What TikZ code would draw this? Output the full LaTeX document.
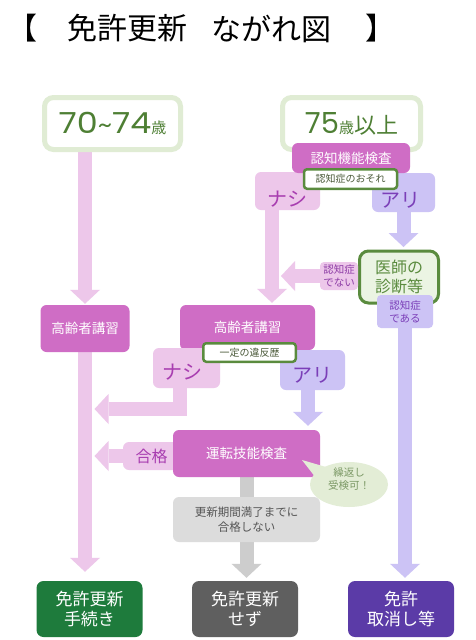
\documentclass[tikz,border=0pt]{standalone}
\usepackage{graphicx}
\usepackage{fontspec}
\setmainfont{Noto Sans CJK JP}
\newfontfamily\digitfont{Poppins}
\usetikzlibrary{arrows.meta,backgrounds,shapes.geometric,calc}
\definecolor{mag}{HTML}{CF6DC5}
\definecolor{lpink}{HTML}{EDC7EA}
\definecolor{lpurple}{HTML}{CCC3F5}
\definecolor{magt}{HTML}{A83DB0}
\definecolor{denait}{HTML}{8E3DA6}
\definecolor{purpt}{HTML}{7B3FB8}
\definecolor{lgreen}{HTML}{E0ECD4}
\definecolor{dgreen}{HTML}{4E7F34}
\definecolor{gline}{HTML}{5A8B3E}
\definecolor{osoret}{HTML}{4B5A3A}
\definecolor{docf}{HTML}{EBF4E3}
\definecolor{bubf}{HTML}{E3EDD6}
\definecolor{bubt}{HTML}{7C9966}
\definecolor{failf}{HTML}{DCDCDC}
\definecolor{failt}{HTML}{555555}
\definecolor{garr}{HTML}{CDCDCD}
\definecolor{renewc}{HTML}{1E7B3C}
\definecolor{norenewc}{HTML}{5F5F5F}
\definecolor{revokec}{HTML}{5B3BA7}
\begin{document}
\begin{tikzpicture}[x=1pt,y=-1pt,
  title/.style={font=\fontsize{30}{30}\selectfont,inner sep=0pt},
  mbox/.style={fill=mag,text=white,rounded corners=6pt,inner sep=0pt,font=\fontsize{13.5}{16}\selectfont},
  pbox/.style={fill=lpink,rounded corners=6pt,inner sep=0pt},
  vbox/.style={fill=lpurple,rounded corners=6pt,inner sep=0pt},
  gbox/.style={draw=gline,line width=2.5pt,fill=white,rounded corners=3pt,inner sep=0pt,text=osoret,font=\fontsize{10}{12}\selectfont},
  agebox/.style={draw=lgreen,line width=5pt,fill=white,rounded corners=9pt,inner sep=0pt,text=dgreen,minimum height=52pt},
  endbox/.style={rounded corners=7pt,inner sep=0pt,text=white,minimum width=106pt,minimum height=56pt,align=center,font=\fontsize{17}{20}\selectfont},
  yn/.style={font=\fontsize{20}{20}\selectfont,inner sep=0pt},
  smalltxt/.style={align=center,inner sep=0pt,font=\fontsize{10.5}{13}\selectfont},
  blockarr/.style={line width=14pt,-{Triangle[width=30pt,length=14pt,line width=0pt]}},
  pinkarr/.style={blockarr,draw=lpink},
  purparr/.style={blockarr,draw=lpurple},
  grayarr/.style={blockarr,draw=garr},
]
\useasboundingbox (0,0) rectangle (476,640);
% title
\node[title] (tb1) at (22,28.5) {【};
\node[title] (tt1) at (127.5,28.5) {免許更新};
\node[title] (tt2) at (271,28.5) {ながれ図};
\node[title] (tb2) at (380,28.5) {】};
% age boxes
\node[agebox,minimum width=136pt] (a7074) at (112.5,123.5)
  {\scalebox{1.15}[1]{\digitfont\fontsize{29}{29}\selectfont 70{\fontsize{24}{24}\selectfont\textasciitilde}74}{\fontsize{15}{15}\selectfont 歳}};
\node[agebox,minimum width=138pt] (a75) at (351.5,123.5)
  {{\digitfont\fontsize{29}{29}\selectfont 75}{\fontsize{15}{15}\selectfont 歳}{\fontsize{22}{22}\selectfont 以上}};
% upper right branch
\node[pbox,minimum width=65pt,minimum height=38pt] (nashi1) at (287.5,191) {};
\node[yn,text=magt] (nashi1t) at (287,199.5) {ナシ};
\node[vbox,minimum width=63pt,minimum height=39pt] (ari1) at (403.5,192.5) {};
\node[yn,text=purpt] (ari1t) at (400,200) {アリ};
\node[mbox,minimum width=118pt,minimum height=30pt] (cog) at (351,158) {認知機能検査};
\node[gbox,minimum width=93pt,minimum height=19.5pt] (osore) at (350.5,179) {認知症のおそれ};
\node[draw=gline,line width=3pt,fill=docf,rounded corners=9pt,inner sep=0pt,minimum width=79pt,minimum height=52pt,
  align=center,text=gline,font=\fontsize{16}{19}\selectfont] (doctor) at (399,277) {医師の\\診断等};
\node[pbox,rounded corners=4pt,minimum width=38pt,minimum height=28pt,smalltxt,text=denait] (denai) at (339,276) {認知症\\でない};
\node[vbox,rounded corners=4pt,minimum width=56pt,minimum height=33pt,smalltxt,text=purpt] (dearu) at (405,311.5) {認知症\\である};
% lectures
\node[mbox,minimum width=89pt,minimum height=47pt] (koureiL) at (85,328.5) {高齢者講習};
\node[mbox,minimum width=135pt,minimum height=45pt] (koureiR) at (247.5,327.5) {高齢者講習};
\node[pbox,minimum width=67pt,minimum height=40pt] (nashi2) at (186.5,368) {};
\node[yn,text=magt] (nashi2t) at (182,372) {ナシ};
\node[vbox,minimum width=65pt,minimum height=40pt] (ari2) at (312.5,370) {};
\node[yn,text=purpt] (ari2t) at (312,375) {アリ};
\node[gbox,minimum width=92.5pt,minimum height=18.5pt] (ihan) at (249.5,352.5) {一定の違反歴};
% driving test
\node[pbox,minimum width=57pt,minimum height=28pt,text=magt,font=\fontsize{16}{16}\selectfont] (goukaku) at (151.5,456) {合格};
\node[mbox,minimum width=147pt,minimum height=47pt] (drive) at (246.5,453.5) {運転技能検査};
\node[ellipse,fill=bubf,inner sep=0pt,minimum width=78pt,minimum height=45pt] (bubble) at (349,484.5) {};
\fill[bubf] (302,460) -- (326,467) -- (316,478) -- cycle;
\node[smalltxt,text=bubt] (bubblet) at (349,479) {繰返し\\受検可！};
\node[fill=failf,rounded corners=6pt,inner sep=0pt,minimum width=147pt,minimum height=45pt,align=center,
  text=failt,font=\fontsize{11.5}{15}\selectfont] (fail) at (246.5,519.5) {更新期間満了までに\\合格しない};
% results
\node[endbox,fill=renewc] (renew) at (89.5,609) {免許更新\\手続き};
\node[endbox,fill=norenewc] (norenew) at (245,609) {免許更新\\せず};
\node[endbox,fill=revokec] (revoke) at (401,609) {免許\\取消し等};
% arrows
\coordinate (c3) at (272,200);
\coordinate (c5) at (180,409);
\coordinate (c9) at (308,375);
\begin{pgfonlayer}{background}
\fill[white] (0,0) rectangle (476,640);
\draw[pinkarr] (a7074.south -| koureiL.center) -- ($(koureiL.north)+(0,-1)$);
\draw[pinkarr] (koureiL.center) -- ($(koureiL.center |- renew.north)+(0,-9)$);
\draw[pinkarr] (c3) -- ($(c3 |- koureiR.north)+(0,-2)$);
\draw[pinkarr] (denai.center) -- ($(denai.center -| c3)+(9,0)$);
\draw[pinkarr,line join=miter] (c5 |- nashi2.center) -- (c5) -- ($(c5 -| koureiL.center)+(9.5,0)$);
\draw[pinkarr] (goukaku.center) -- ($(goukaku.center -| koureiL.center)+(9.5,0)$);
\draw[purparr] (ari1.center) -- ($(ari1.center |- doctor.north)+(0,-2.5)$);
\draw[purparr] (dearu.center) -- ($(dearu.center |- revoke.north)+(0,-3)$);
\draw[purparr] (c9) -- ($(c9 |- drive.north)+(0,-4)$);
\draw[draw=garr,line width=14pt] (drive.center) -- (fail.center);
\draw[grayarr] (fail.center) -- ($(fail.center |- norenew.north)+(0,-3)$);
\end{pgfonlayer}
\end{tikzpicture}
\end{document}
